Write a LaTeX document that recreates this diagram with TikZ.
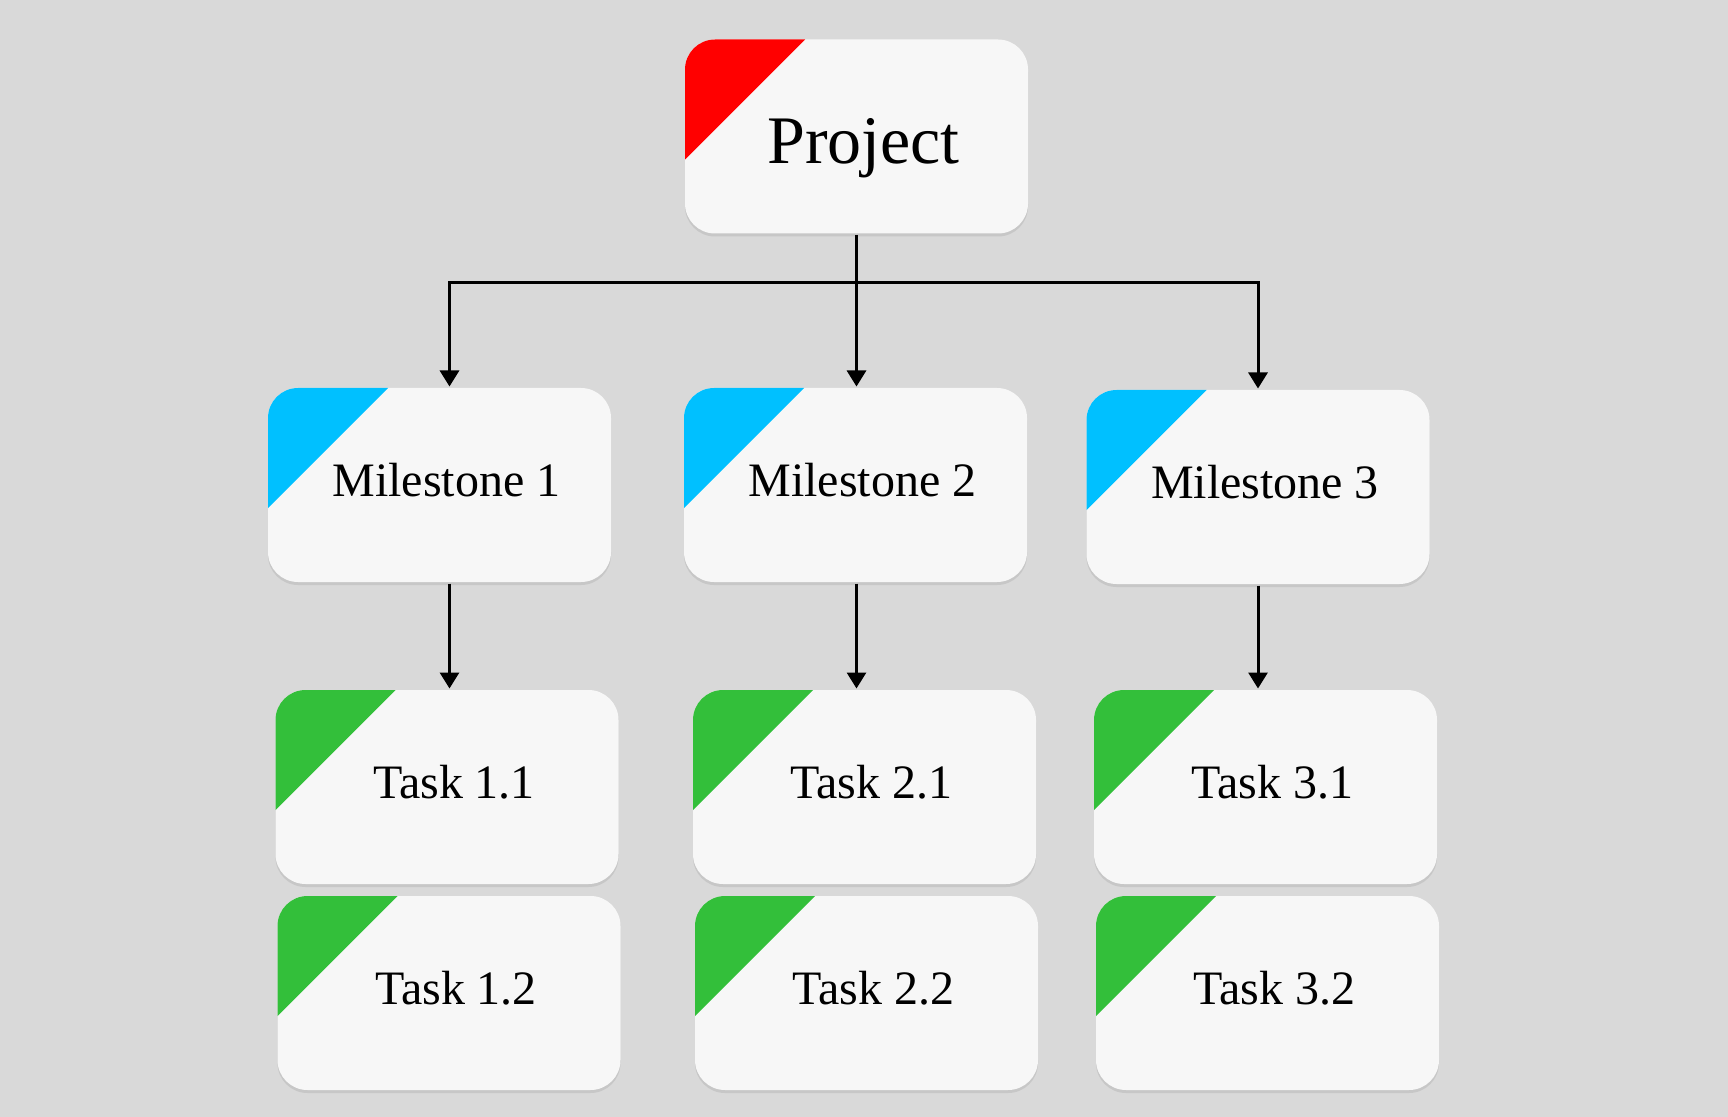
\documentclass[tikz,border=0pt]{standalone}
\usepackage{fontspec}
\setmainfont{Liberation Serif}
\usetikzlibrary{arrows.meta,shadows}
\definecolor{bggray}{RGB}{217,217,217}
\definecolor{cardwhite}{RGB}{247,247,247}
\definecolor{projred}{RGB}{255,0,0}
\definecolor{milestoneblue}{RGB}{0,192,255}
\definecolor{taskgreen}{RGB}{51,191,58}

\begin{document}
\begin{tikzpicture}[x=0.5pt,y=-0.5pt,line width=1.5pt,>={Triangle[length=8pt,width=9.5pt]}]
    \tikzstyle{card}=[rectangle,rounded corners=15pt,fill=cardwhite,minimum width=171.5pt,minimum height=97pt,inner sep=0pt,
        drop shadow={shadow xshift=0pt,shadow yshift=-1.5pt,opacity=0.2},
        font=\fontsize{24}{28}\selectfont,text height=16pt,text depth=5pt,execute at begin node={\hspace*{7pt}}]
    \tikzstyle{project card}=[card,font=\fontsize{34}{40}\selectfont,text height=27pt,text depth=0pt,
        path picture={\fill[projred,sharp corners] (path picture bounding box.north west) -- ++(\cornersize,0pt) -- ++(-\cornersize,-\cornersize) -- cycle;}]
    \tikzstyle{milestone card}=[card,
        path picture={\fill[milestoneblue,sharp corners] (path picture bounding box.north west) -- ++(\cornersize,0pt) -- ++(-\cornersize,-\cornersize) -- cycle;}]
    \tikzstyle{task card}=[card,
        path picture={\fill[taskgreen,sharp corners] (path picture bounding box.north west) -- ++(\cornersize,0pt) -- ++(-\cornersize,-\cornersize) -- cycle;}]
    \def\cornersize{60pt}

    \path[use as bounding box,fill=bggray] (0,0) rectangle (1728,1117);

    % Draw the project node
    \node[project card] (P) at (856.5,136.5) {Project};

    % Draw the milestone nodes
    \foreach \name / \x / \y in {1/439.5/485,2/855.5/485,3/1258/487}
        \node[milestone card] (M-\name) at (\x,\y) {Milestone \name};

    % Draw the task nodes
    \foreach \name / \x in {1/447,2/864.5,3/1265.5}
        \node[task card] (T-\name-1) at (\x,787) {Task \name.1};
    \foreach \name / \x in {1/449,2/866.5,3/1267.5}
        \node[task card] (T-\name-2) at (\x,993) {Task \name.2};

    % Connect the project with every milestone
    \coordinate (bus) at (856.5,283);
    \draw[->] (P.south) -- (bus) -| ([xshift=5pt]M-1.north);
    \draw[->] (bus) -- (bus |- M-2.north);
    \draw[->] (bus) -| (M-3.north);

    % Connect every milestone with its first task
    \foreach \source / \dx in {1/5pt,2/0.5pt,3/0pt}
        \draw[->] ([xshift=\dx]M-\source.south) -- ([xshift=\dx]M-\source.south |- T-\source-1.north);

\end{tikzpicture}
\end{document}
